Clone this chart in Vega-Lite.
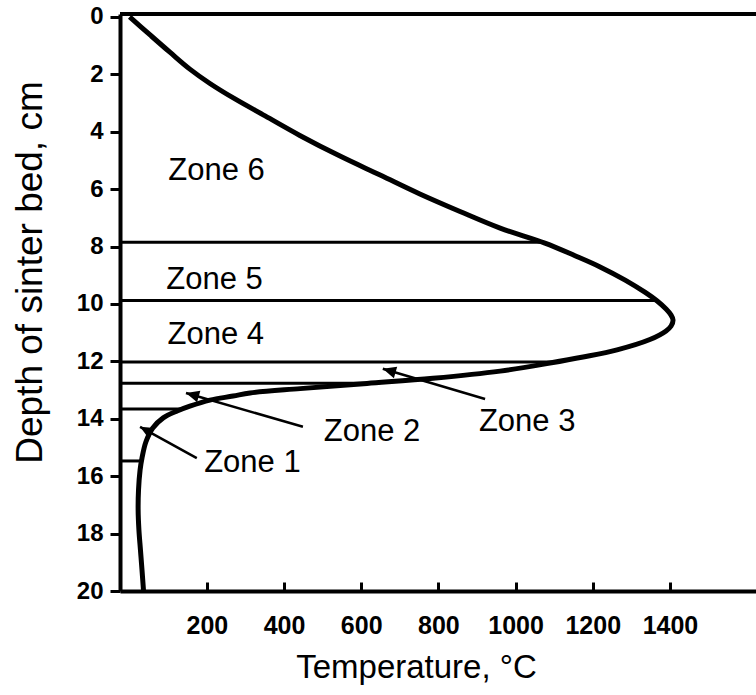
{
  "$schema": "https://vega.github.io/schema/vega-lite/v6.json",
  "width": 636,
  "height": 577,
  "autosize": {"type": "none"},
  "padding": {"left": 120, "top": 14, "right": 0, "bottom": 104},
  "background": "white",
  "config": {"view": {"stroke": null}, "font": "Liberation Sans"},
  "datasets": {
    "curve": [
      {"t": 0, "d": 0}, {"t": 53, "d": 0.63}, {"t": 105, "d": 1.24}, {"t": 156, "d": 1.82},
      {"t": 208, "d": 2.32}, {"t": 273, "d": 2.86}, {"t": 351, "d": 3.45}, {"t": 441, "d": 4.13},
      {"t": 545, "d": 4.85}, {"t": 649, "d": 5.51}, {"t": 752, "d": 6.17}, {"t": 856, "d": 6.78},
      {"t": 960, "d": 7.36}, {"t": 1076, "d": 7.88}, {"t": 1154, "d": 8.32}, {"t": 1219, "d": 8.71},
      {"t": 1284, "d": 9.17}, {"t": 1336, "d": 9.6}, {"t": 1367, "d": 9.9}, {"t": 1390, "d": 10.18},
      {"t": 1403, "d": 10.39}, {"t": 1408, "d": 10.56}, {"t": 1403, "d": 10.77}, {"t": 1390, "d": 10.94},
      {"t": 1348, "d": 11.24}, {"t": 1263, "d": 11.6}, {"t": 1175, "d": 11.85}, {"t": 1089, "d": 12.06},
      {"t": 960, "d": 12.34}, {"t": 786, "d": 12.59}, {"t": 615, "d": 12.77}, {"t": 442, "d": 12.95},
      {"t": 312, "d": 13.1}, {"t": 268, "d": 13.21}, {"t": 208, "d": 13.35}, {"t": 156, "d": 13.56},
      {"t": 123, "d": 13.73}, {"t": 87, "d": 13.97}, {"t": 60, "d": 14.32}, {"t": 42, "d": 14.81},
      {"t": 32, "d": 15.37}, {"t": 27, "d": 15.79}, {"t": 23, "d": 16.48}, {"t": 22, "d": 17.18},
      {"t": 24, "d": 17.87}, {"t": 28, "d": 18.57}, {"t": 32, "d": 19.27}, {"t": 36, "d": 20}
    ],
    "bounds": [
      {"d": 7.85, "t0": -25, "t1": 1072},
      {"d": 9.88, "t0": -25, "t1": 1365},
      {"d": 12.02, "t0": -25, "t1": 1100},
      {"d": 12.76, "t0": -25, "t1": 614},
      {"d": 13.66, "t0": -25, "t1": 140},
      {"d": 15.47, "t0": -25, "t1": 31}
    ],
    "labels": [
      {"label": "Zone 6", "t": 100, "d": 5.36},
      {"label": "Zone 5", "t": 95, "d": 9.16},
      {"label": "Zone 4", "t": 98, "d": 11.08},
      {"label": "Zone 3", "t": 905, "d": 14.1},
      {"label": "Zone 2", "t": 503, "d": 14.45},
      {"label": "Zone 1", "t": 193, "d": 15.55}
    ],
    "arrows": [
      {"zone": "Zone 1", "t0": 174, "d0": 15.37, "t1": 27, "d1": 14.28},
      {"zone": "Zone 2", "t0": 449, "d0": 14.28, "t1": 146, "d1": 13.1},
      {"zone": "Zone 3", "t0": 921, "d0": 13.31, "t1": 656, "d1": 12.26}
    ],
    "frame": [
      {"t0": -25, "t1": 1623, "d": -0.1}
    ]
  },
  "layer": [
    {
      "data": {"name": "bounds"},
      "mark": {"type": "rule", "color": "black", "strokeWidth": 3},
      "encoding": {
        "x": {"field": "t0", "type": "quantitative",
          "scale": {"domain": [-25, 1623], "nice": false, "zero": false},
          "axis": {
            "values": [200, 400, 600, 800, 1000, 1200, 1400], "format": "d",
            "domain": true, "ticks": true,
            "grid": false, "domainColor": "#000000", "domainWidth": 4, "domainOpacity": 1,
            "tickColor": "#000000", "tickWidth": 3, "tickSize": -9, "tickOpacity": 1,
            "labelFont": "Liberation Sans", "labelFontWeight": "bold", "labelFontSize": 25,
            "labelColor": "black", "labelPadding": 31, "labelBaseline": "top",
            "title": "Temperature, °C", "titleFont": "Liberation Sans", "titleFontWeight": "normal",
            "titleFontSize": 33, "titleColor": "black", "titleX": 296, "titleY": 76,
            "titleAlign": "center", "titleBaseline": "middle"
          }
        },
        "x2": {"field": "t1"},
        "y": {"field": "d", "type": "quantitative",
          "scale": {"domain": [-0.1, 20], "nice": false, "zero": false, "reverse": true},
          "axis": {
            "values": [0, 2, 4, 6, 8, 10, 12, 14, 16, 18, 20],
            "domain": true, "ticks": true,
            "grid": false, "domainColor": "#000000", "domainWidth": 4, "domainOpacity": 1,
            "tickColor": "#000000", "tickWidth": 3, "tickSize": 10, "tickOpacity": 1,
            "labelFont": "Liberation Sans", "labelFontWeight": "bold", "labelFontSize": 24,
            "labelColor": "black", "labelPadding": 7,
            "title": "Depth of sinter bed, cm", "titleFont": "Liberation Sans", "titleFontWeight": "normal",
            "titleFontSize": 37, "titleColor": "black", "titleX": -90, "titleY": 258,
            "titleAlign": "center", "titleBaseline": "middle", "titleAngle": -90
          }
        }
      }
    },
    {
      "data": {"name": "frame"},
      "mark": {"type": "rule", "color": "black", "strokeWidth": 4},
      "encoding": {
        "x": {"field": "t0", "type": "quantitative"},
        "x2": {"field": "t1"},
        "y": {"field": "d", "type": "quantitative"}
      }
    },
    {
      "data": {"name": "curve"},
      "mark": {"type": "line", "color": "black", "strokeWidth": 5, "interpolate": "catmull-rom"},
      "encoding": {
        "x": {"field": "t", "type": "quantitative"},
        "y": {"field": "d", "type": "quantitative"},
        "order": {"field": "d", "type": "quantitative"}
      }
    },
    {
      "data": {"name": "arrows"},
      "mark": {"type": "rule", "color": "black", "strokeWidth": 2.5},
      "encoding": {
        "x": {"field": "t0", "type": "quantitative"},
        "y": {"field": "d0", "type": "quantitative"},
        "x2": {"field": "t1"},
        "y2": {"field": "d1"}
      }
    },
    {
      "data": {"name": "arrows"},
      "transform": [{"filter": "datum.zone === 'Zone 1'"}],
      "mark": {"type": "point", "filled": true, "color": "black", "opacity": 1,
        "shape": "M0,0L0.45,1L-0.45,1Z", "size": 700, "angle": -61},
      "encoding": {
        "x": {"field": "t1", "type": "quantitative"},
        "y": {"field": "d1", "type": "quantitative"}
      }
    },
    {
      "data": {"name": "arrows"},
      "transform": [{"filter": "datum.zone !== 'Zone 1'"}],
      "mark": {"type": "point", "filled": true, "color": "black", "opacity": 1,
        "shape": "M0,0L0.45,1L-0.45,1Z", "size": 700, "angle": -74},
      "encoding": {
        "x": {"field": "t1", "type": "quantitative"},
        "y": {"field": "d1", "type": "quantitative"}
      }
    },
    {
      "data": {"name": "labels"},
      "mark": {"type": "text", "align": "left", "baseline": "middle", "fontSize": 31,
        "font": "Liberation Sans", "color": "black"},
      "encoding": {
        "x": {"field": "t", "type": "quantitative"},
        "y": {"field": "d", "type": "quantitative"},
        "text": {"field": "label"}
      }
    }
  ]
}
